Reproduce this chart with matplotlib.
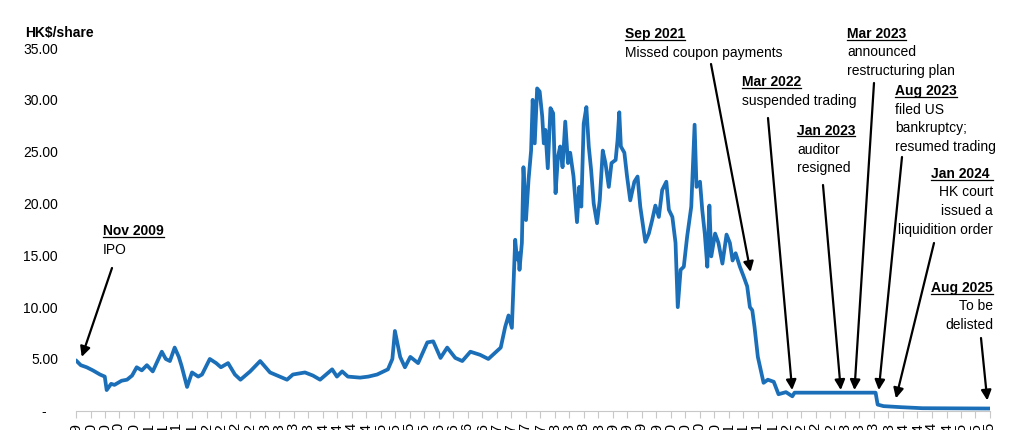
import pandas as pd
import matplotlib
matplotlib.use('Agg')
import matplotlib.pyplot as plt
from matplotlib.lines import Line2D

plt.rcParams['font.family'] = ['Liberation Sans', 'DejaVu Sans']

# share price (HK$/share)
dates = [
    '2009-11-05', '2009-12-01', '2010-01-07', '2010-02-15', '2010-04-01', '2010-05-01',
    '2010-05-13', '2010-06-10', '2010-07-01', '2010-08-15', '2010-09-18', '2010-10-20',
    '2010-11-18', '2010-12-20', '2011-01-21', '2011-02-27', '2011-04-25', '2011-05-20',
    '2011-06-15', '2011-07-15', '2011-08-10', '2011-08-28', '2011-10-01', '2011-11-01',
    '2011-12-10', '2012-01-03', '2012-02-21', '2012-04-01', '2012-05-01', '2012-06-15',
    '2012-07-28', '2012-09-01', '2012-11-01', '2013-01-03', '2013-03-06', '2013-05-06',
    '2013-06-21', '2013-07-28', '2013-10-12', '2013-12-01', '2014-01-15', '2014-04-01',
    '2014-05-01', '2014-06-03', '2014-07-09', '2014-09-24', '2014-11-15', '2015-01-09',
    '2015-03-18', '2015-04-15', '2015-05-01', '2015-06-03', '2015-07-03', '2015-08-06',
    '2015-09-24', '2015-11-21', '2015-12-28', '2016-02-12', '2016-03-25', '2016-05-15',
    '2016-06-28', '2016-08-18', '2016-10-18', '2016-12-09', '2017-02-25',
    '2017-03-25', '2017-04-15', '2017-05-06', '2017-05-27', '2017-06-07', '2017-06-17',
    '2017-06-23', '2017-07-08', '2017-07-18', '2017-08-03', '2017-08-19', '2017-09-04',
    '2017-09-14', '2017-09-27', '2017-10-12', '2017-10-28', '2017-11-13', '2017-11-23',
    '2017-12-03', '2017-12-18', '2018-01-04', '2018-01-21', '2018-02-05', '2018-02-20',
    '2018-03-06', '2018-03-21', '2018-04-07', '2018-04-24', '2018-05-08', '2018-05-29',
    '2018-06-20', '2018-07-04', '2018-07-17', '2018-08-01', '2018-08-18', '2018-09-02',
    '2018-09-17', '2018-10-03', '2018-10-24', '2018-11-10', '2018-11-29', '2018-12-16',
    '2019-01-06', '2019-01-23', '2019-02-18', '2019-03-02', '2019-03-13', '2019-03-23',
    '2019-04-14', '2019-05-01', '2019-05-21', '2019-06-16', '2019-07-06', '2019-07-23',
    '2019-08-10', '2019-08-24', '2019-09-15', '2019-10-06', '2019-10-26', '2019-11-17',
    '2019-12-08', '2020-01-03', '2020-01-19', '2020-02-10', '2020-03-01', '2020-03-15',
    '2020-04-02', '2020-04-22', '2020-05-13', '2020-06-08', '2020-06-29', '2020-07-11',
    '2020-08-02', '2020-08-16', '2020-09-01', '2020-09-17', '2020-09-30', '2020-10-12',
    '2020-11-05', '2020-11-26', '2020-12-21', '2021-01-16', '2021-02-06', '2021-02-23',
    '2021-03-14', '2021-04-10', '2021-05-05', '2021-05-26', '2021-06-12', '2021-06-27',
    '2021-07-11', '2021-08-01', '2021-09-06', '2021-10-03', '2021-11-09', '2021-12-09',
    '2022-01-25', '2022-03-06', '2022-03-20', '2023-08-12', '2023-08-25', '2023-10-01',
    '2024-01-18', '2024-06-01', '2025-08-01',
]
prices = [
    4.8, 4.4, 4.2, 3.9, 3.5, 3.3,
    2.0, 2.6, 2.5, 2.9, 3.0, 3.4,
    4.2, 3.9, 4.4, 3.8, 5.7, 5.0,
    4.8, 6.1, 5.2, 4.3, 2.3, 3.7,
    3.3, 3.5, 5.0, 4.6, 4.2, 4.6,
    3.5, 3.0, 3.8, 4.8, 3.7, 3.3,
    3.0, 3.5, 3.7, 3.4, 3.0, 4.0,
    3.3, 3.8, 3.3, 3.2, 3.3, 3.5,
    4.0, 5.0, 7.7, 5.2, 4.2, 5.2,
    4.6, 6.6, 6.7, 5.1, 6.1, 5.1,
    4.8, 5.7, 5.4, 5.0, 6.1,
    8.1, 9.2, 8.0, 16.5, 14.6, 15.2,
    13.6, 16.2, 23.5, 18.4, 22.3, 25.1,
    30.0, 25.8, 31.1, 30.8, 28.4, 25.8,
    27.1, 23.4, 29.2, 28.7, 21.0, 24.5,
    25.5, 23.5, 27.9, 23.9, 24.9, 22.6,
    18.2, 21.6, 19.7, 27.7, 29.3, 25.5,
    23.2, 20.0, 18.1, 20.3, 25.1, 23.9,
    21.6, 23.9, 24.2, 26.1, 28.8, 25.5,
    24.9, 22.6, 20.3, 22.1, 22.6, 19.7,
    17.8, 16.3, 17.1, 18.4, 19.8, 18.7,
    21.3, 22.1, 19.4, 18.7, 16.2, 10.0,
    13.6, 13.9, 16.8, 19.7, 27.6, 21.6,
    22.1, 19.4, 17.1, 13.9, 19.8, 14.9,
    17.1, 16.2, 14.2, 17.0, 16.2, 14.5,
    15.2, 13.9, 12.9, 12.0, 10.0, 9.7,
    8.1, 5.2, 2.7, 3.0, 2.8, 1.6,
    1.8, 1.4, 1.75, 1.75, 0.6, 0.45,
    0.35, 0.25, 0.22,
]

y_ticks = [0, 5, 10, 15, 20, 25, 30, 35]
y_tick_labels = ['-   ', '5.00', '10.00', '15.00', '20.00', '25.00', '30.00', '35.00']

# events: header, body lines, text anchor (px), line alignment, arrow tail (px), arrow tip (date, price)
events = [
    ('Nov 2009', ['IPO'], (103, 231), 'left', (112, 268), ('2009-12-07', 5.2)),
    ('Sep 2021', ['Missed coupon payments'], (625, 34), 'left', (711, 64), ('2021-06-16', 13.4)),
    ('Mar 2022', ['suspended trading'], (742, 82), 'left', (768, 118), ('2022-03-05', 2.0)),
    ('Jan 2023', ['auditor', 'resigned'], (797, 131), 'left', (823, 185), ('2023-01-05', 2.0)),
    ('Mar 2023', ['announced', 'restructuring plan'], (847, 34), 'left', (874, 83), ('2023-04-01', 2.0)),
    ('Aug 2023', ['filed US', 'bankruptcy;', 'resumed trading'], (895, 91), 'left', (902, 157), ('2023-09-01', 2.0)),
    ('Jan 2024 ', ['HK court', 'issued a', 'liquidition order'], (993, 174), 'right', (934, 243), ('2023-12-18', 1.2)),
    ('Aug 2025', ['To be', 'delisted'], (993, 288), 'right', (981, 338), ('2025-07-15', 1.0)),
]

W, H = 1012, 430
LINE_GAP = 18.5
FS = 10


def fx(x):
    return x / W


def fy(y):
    return 1 - y / H


fig = plt.figure(figsize=(W / 100, H / 100), dpi=100)
ax = fig.add_axes([fx(76), fy(410.8), fx(990) - fx(76), fy(48) - fy(410.8)])

ax.plot(pd.to_datetime(dates), prices, color='#1a6fb8', lw=2.7, solid_joinstyle='round')

ax.set_xlim(pd.Timestamp('2009-11-01'), pd.Timestamp('2025-08-01'))
ax.set_ylim(0, 35)

x_ticks = pd.date_range('2009-11-01', '2025-08-01', freq='3MS')
ax.set_xticks(x_ticks)
ax.set_xticklabels([d.strftime('%b-%y') for d in x_ticks], rotation=90, fontsize=11,
                   ha='center', va='top')
ax.set_yticks(y_ticks)
ax.set_yticklabels(y_tick_labels, fontsize=FS)

for side in ['top', 'right', 'left']:
    ax.spines[side].set_visible(False)
ax.spines['bottom'].set_color('#c8c8c8')
ax.tick_params(axis='x', length=5, color='#c8c8c8', pad=3)
ax.tick_params(axis='y', length=0, pad=13)

fig.text(fx(25), fy(33), 'HK$/share', fontsize=10, fontweight='bold', va='center', ha='left')

headers = []
for head, body, (tx, ty), align, tail, tip in events:
    t = fig.text(fx(tx), fy(ty), head, fontsize=FS, fontweight='bold', va='center', ha=align)
    headers.append(t)
    for i, line in enumerate(body):
        fig.text(fx(tx), fy(ty + LINE_GAP * (i + 1)), line, fontsize=FS, va='center', ha=align)
    ax.annotate('', xy=(pd.Timestamp(tip[0]), tip[1]), xycoords='data',
                xytext=(fx(tail[0]), fy(tail[1])), textcoords='figure fraction',
                annotation_clip=False,
                arrowprops=dict(arrowstyle='-|>', color='black', lw=1.6,
                                mutation_scale=15, shrinkA=0, shrinkB=0))

# underline the bold dates
fig.canvas.draw()
renderer = fig.canvas.get_renderer()
for t in headers:
    bb = t.get_window_extent(renderer)
    fig.add_artist(Line2D([bb.x0 / W, bb.x1 / W], [(bb.y0 + 1.5) / H] * 2,
                          transform=fig.transFigure, color='black', lw=0.9))

fig.savefig('out.png', dpi=100)
